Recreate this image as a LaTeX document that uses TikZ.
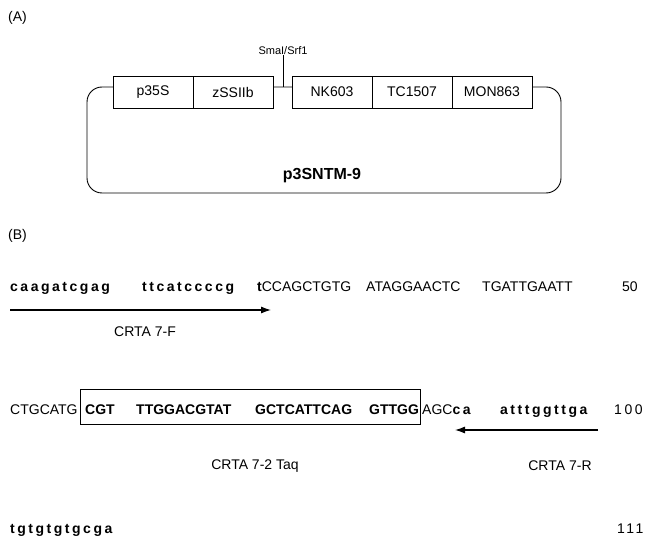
\documentclass[tikz,border=0pt]{standalone}
\usepackage{fontspec}
\setmainfont{Liberation Sans}
\newfontfamily\spaced[LetterSpace=18]{Liberation Sans}
\usetikzlibrary{positioning, arrows.meta, calc}

\newcommand{\lc}[1]{{\spaced\bfseries #1}}

\tikzset{
  part/.style={draw, fill=white, line width=0.9pt, outer sep=0pt, inner sep=0pt,
    minimum width=80pt, minimum height=32pt, font=\fontsize{14}{16}\selectfont},
  seq/.style={anchor=base west, inner sep=0pt, font=\fontsize{14}{16}\selectfont},
  lbl/.style={inner sep=0pt, font=\fontsize{14}{16}\selectfont},
  primer/.style={line width=1.1pt, -{Latex[length=10pt, width=7pt]}}
}

\begin{document}
\begin{tikzpicture}[x=1pt, y=-1pt]
\useasboundingbox (0,0) rectangle (647,537);

% (A) plasmid
\node[lbl, anchor=west] (parta) at (8,18) {(A)};
\draw[line width=0.9pt, rounded corners=15pt] (87,87) rectangle (561,193);

\node[part] (p35s) at (153,92) {p35S};
\node[part] (zssiib) [right=0pt of p35s] {zSSIIb};
\node[part] (nk603) at (332,92) {NK603};
\node[part] (tc1507) [right=0pt of nk603] {TC1507};
\node[part] (mon863) [right=0pt of tc1507] {MON863};

\coordinate (site) at (283,87);
\node[lbl, font=\fontsize{11}{13}\selectfont] (smai) [above=32pt of site] {SmaI/Srf1};
\draw[line width=0.9pt] (site) -- (smai.south);

\node[lbl, font=\fontsize{16}{18}\selectfont\bfseries] (name) at (322,176) {p3SNTM-9};

% (B) sequence
\node[lbl, anchor=west] (partb) at (8,236) {(B)};

\node[seq] (s1a) at (10,291) {\lc{caagatcgag}};
\node[seq] (s1b) at (142,291) {\lc{ttcatccccg}};
\node[seq] (s1c) at (257,291) {\textbf{t}CCAGCTGTG};
\node[seq] (s1d) at (366,291) {ATAGGAACTC};
\node[seq] (s1e) at (482,291) {TGATTGAATT};
\node[seq] (n50) at (622,291) {50};

\coordinate (fstart) at (10,310);
\coordinate (fend) at (271,310);
\draw[primer] (fstart) -- (fend);
\node[lbl] (crtaf) at (145,332) {CRTA 7-F};

\node[seq] (s2a) at (10,414) {CTGCATG};
\node[seq] (s2b) at (85,414) {\textbf{CGT}};
\node[seq] (s2c) at (136,414) {\textbf{TTGGACGTAT}};
\node[seq] (s2d) at (255,414) {\textbf{GCTCATTCAG}};
\node[seq] (s2e) at (369,414) {\textbf{GTTGG}};
\node[seq] (s2f) at (422,414) {AGC\lc{ca}};
\node[seq] (s2g) at (500,414) {\lc{atttggttga}};
\node[seq] (n100) at (614,414) {{\spaced 100}};
\node[draw, line width=0.9pt, minimum width=340pt, minimum height=35pt] (taq) at (250,407) {};

\coordinate (rstart) at (598,430);
\coordinate (rend) at (455,430);
\draw[primer] (rstart) -- (rend);
\node[lbl] (crtataq) at (255,466) {CRTA 7-2 Taq};
\node[lbl] (crtar) at (560,466) {CRTA 7-R};

\node[seq] (s3a) at (10,533) {\lc{tgtgtgtgcga}};
\node[seq] (n111) at (617,533) {{\spaced 111}};
\end{tikzpicture}
\end{document}
